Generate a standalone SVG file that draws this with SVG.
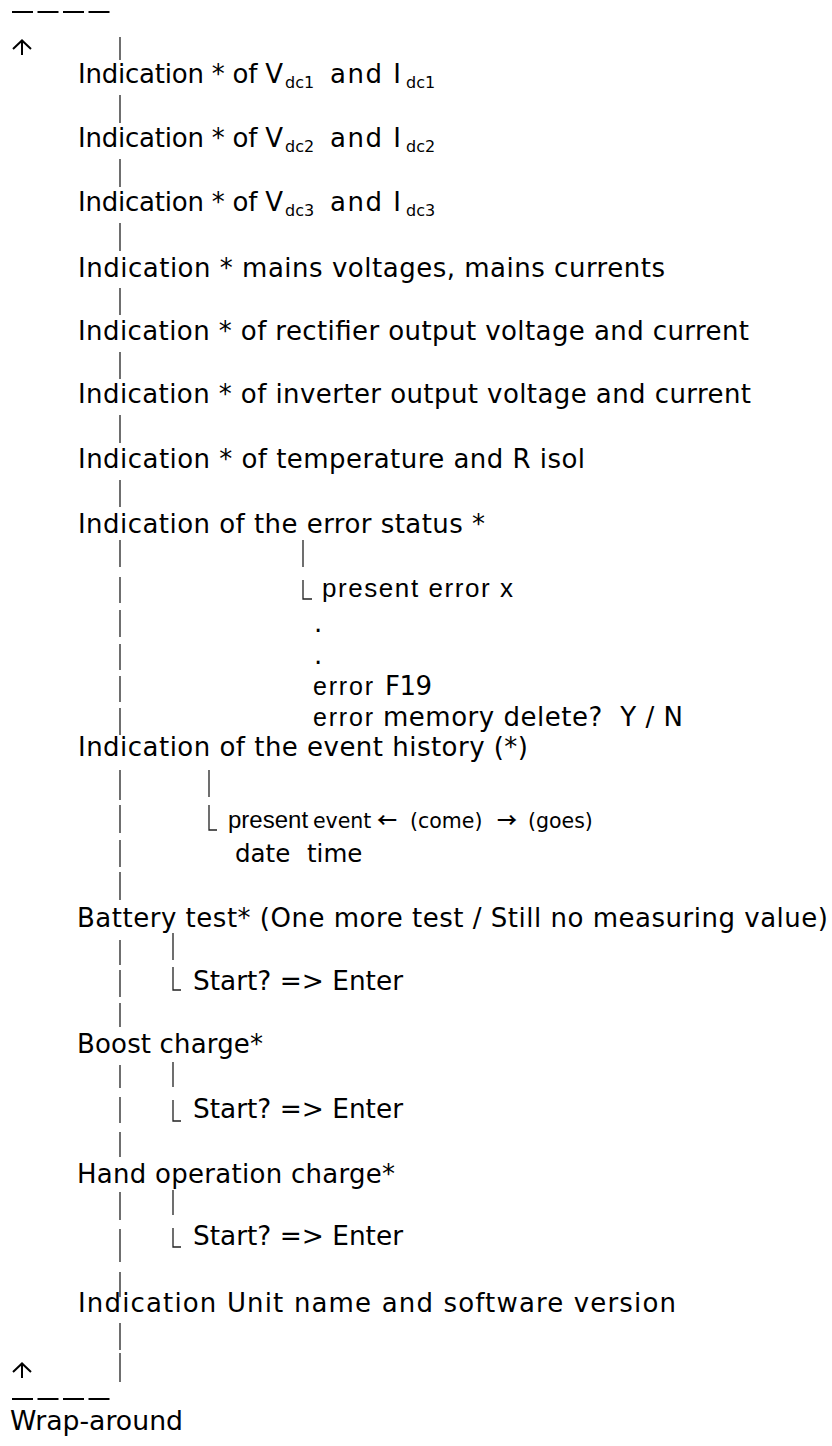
<svg xmlns="http://www.w3.org/2000/svg" width="832" height="1446" viewBox="0 0 832 1446">
  <style>
    .t { font-family: "DejaVu Sans", Verdana, sans-serif; font-size: 26px; fill: #000; white-space: pre; }
    .e { font-family: "DejaVu Sans", Verdana, sans-serif; font-size: 20.5px; fill: #000; }
    .m { font-family: "DejaVu Sans", Verdana, sans-serif; font-size: 24.5px; fill: #000; }
    .a { font-family: "Liberation Sans", Arial, sans-serif; font-size: 26px; fill: #000; white-space: pre; }
    .a2 { font-family: "Liberation Sans", Arial, sans-serif; font-size: 25px; fill: #000; }
    .p { font-family: "Liberation Sans", Arial, sans-serif; font-size: 24px; fill: #000; }
    .s { font-family: "DejaVu Sans", Verdana, sans-serif; font-size: 16px; fill: #000; }
    .ea { font-family: "Noto Sans CJK SC", "DejaVu Sans", sans-serif; font-size: 20px; font-weight: 700; fill: #000; }
    .bar { stroke: #222; stroke-width: 1.3; fill: none; }
    .dash { stroke: #000; stroke-width: 1.8; stroke-dasharray: 21 4.5; fill: none; }
    .up { stroke: #000; stroke-width: 2; fill: none; stroke-linejoin: miter; }
  </style>
  <rect width="832" height="1446" fill="#fff"/>

  <!-- wrap-around label -->
  <g id="wrap-around">
    <text class="t" x="10" y="1430" textLength="173" lengthAdjust="spacingAndGlyphs">Wrap-around</text>
  </g>

  <!-- menu entries -->
  <g id="vdc1">
    <text class="t" x="78" y="83" textLength="205" lengthAdjust="spacing">Indication * of V</text>
    <text class="s" x="285" y="88">dc1</text>
    <text class="t" x="330" y="83" textLength="71" lengthAdjust="spacing">and I</text>
    <text class="s" x="406" y="88">dc1</text>
  </g>
  <g id="vdc2">
    <text class="t" x="78" y="147" textLength="205" lengthAdjust="spacing">Indication * of V</text>
    <text class="s" x="285" y="152">dc2</text>
    <text class="t" x="330" y="147" textLength="71" lengthAdjust="spacing">and I</text>
    <text class="s" x="406" y="152">dc2</text>
  </g>
  <g id="vdc3">
    <text class="t" x="78" y="211" textLength="205" lengthAdjust="spacing">Indication * of V</text>
    <text class="s" x="285" y="216">dc3</text>
    <text class="t" x="330" y="211" textLength="71" lengthAdjust="spacing">and I</text>
    <text class="s" x="406" y="216">dc3</text>
  </g>
  <g id="mains">
    <text class="t" x="78" y="277" textLength="587" lengthAdjust="spacing">Indication * mains voltages, mains currents</text>
  </g>
  <g id="rectifier">
    <text class="t" x="78" y="340" textLength="671" lengthAdjust="spacing">Indication * of rectifier output voltage and current</text>
  </g>
  <g id="inverter">
    <text class="t" x="78" y="403" textLength="673" lengthAdjust="spacing">Indication * of inverter output voltage and current</text>
  </g>
  <g id="temperature">
    <text class="t" x="78" y="468" textLength="507" lengthAdjust="spacing">Indication * of temperature and R isol</text>
  </g>
  <g id="error-status">
    <text class="t" x="78" y="533" textLength="407" lengthAdjust="spacing">Indication of the error status *</text>
    <text class="a" x="322" y="597" textLength="191" lengthAdjust="spacing">present error x</text>
    <text class="t" x="314" y="632">.</text>
    <text class="t" x="314" y="664">.</text>
    <text class="a2" x="313" y="695" textLength="60" lengthAdjust="spacing">error</text>
    <text class="t" x="385" y="695" textLength="47" lengthAdjust="spacing">F19</text>
    <text class="a2" x="313" y="726" textLength="60" lengthAdjust="spacing">error</text>
    <text class="t" x="383" y="726" textLength="300" lengthAdjust="spacing">memory delete?  Y / N</text>
  </g>
  <g id="event-history">
    <text class="t" x="78" y="756" textLength="450" lengthAdjust="spacing">Indication of the event history (*)</text>
    <text class="p" x="228" y="828">present</text>
    <text class="e" x="313" y="828">event</text>
    <text class="ea" x="377" y="828">←</text>
    <text class="e" x="410" y="828">(come)</text>
    <text class="ea" x="497" y="828">→</text>
    <text class="e" x="528" y="828">(goes)</text>
    <text class="m" x="235" y="862">date</text>
    <text class="m" x="307" y="862">time</text>
  </g>
  <g id="battery-test">
    <text class="t" x="77" y="927" textLength="751" lengthAdjust="spacing">Battery test* (One more test / Still no measuring value)</text>
    <text class="t" x="193" y="990" textLength="210" lengthAdjust="spacingAndGlyphs">Start? =&gt; Enter</text>
  </g>
  <g id="boost-charge">
    <text class="t" x="77" y="1053" textLength="186" lengthAdjust="spacing">Boost charge*</text>
    <text class="t" x="193" y="1118" textLength="210" lengthAdjust="spacingAndGlyphs">Start? =&gt; Enter</text>
  </g>
  <g id="hand-charge">
    <text class="t" x="77" y="1183" textLength="318" lengthAdjust="spacing">Hand operation charge*</text>
    <text class="t" x="193" y="1245" textLength="210" lengthAdjust="spacingAndGlyphs">Start? =&gt; Enter</text>
  </g>
  <g id="unit-name">
    <text class="t" x="78" y="1312" textLength="598" lengthAdjust="spacing">Indication Unit name and software version</text>
  </g>

  <!-- connectors: the main column, sub-branches and the wrap-around return -->
  <g id="connectors" class="bar">
    <line class="dash" x1="12" y1="12" x2="110" y2="12"/>
    <line class="dash" x1="12" y1="1399" x2="110" y2="1399"/>
    <path class="up" d="M13 49L22 40.5L31 49 M22 41V55"/>
    <path class="up" d="M13 1372L22 1363.5L31 1372 M22 1364V1378"/>
    <path d="M120 37V60 M120 95V123 M120 159V187 M120 223V251 M120 288V315 M120 352V379 M120 415V443 M120 480V507"/>
    <path d="M120 540V567 M120 577V603 M120 610V637 M120 644V670 M120 676V702 M120 708V735"/>
    <path d="M120 770V800 M120 805V833 M120 840V867 M120 872V900"/>
    <path d="M120 940V965 M120 970V997 M120 1003V1027"/>
    <path d="M120 1065V1088 M120 1097V1123 M120 1132V1157"/>
    <path d="M120 1192V1220 M120 1229V1262 M120 1272V1297"/>
    <path d="M120 1323V1350 M120 1353V1382"/>
    <path d="M303 540V567 M303 580V599H312"/>
    <path d="M209 770V797 M209 805V830H217"/>
    <path d="M173 933V960 M173 967V990H181"/>
    <path d="M173 1062V1087 M173 1100V1121H181"/>
    <path d="M173 1190V1215 M173 1228V1247H181"/>
  </g>
</svg>
